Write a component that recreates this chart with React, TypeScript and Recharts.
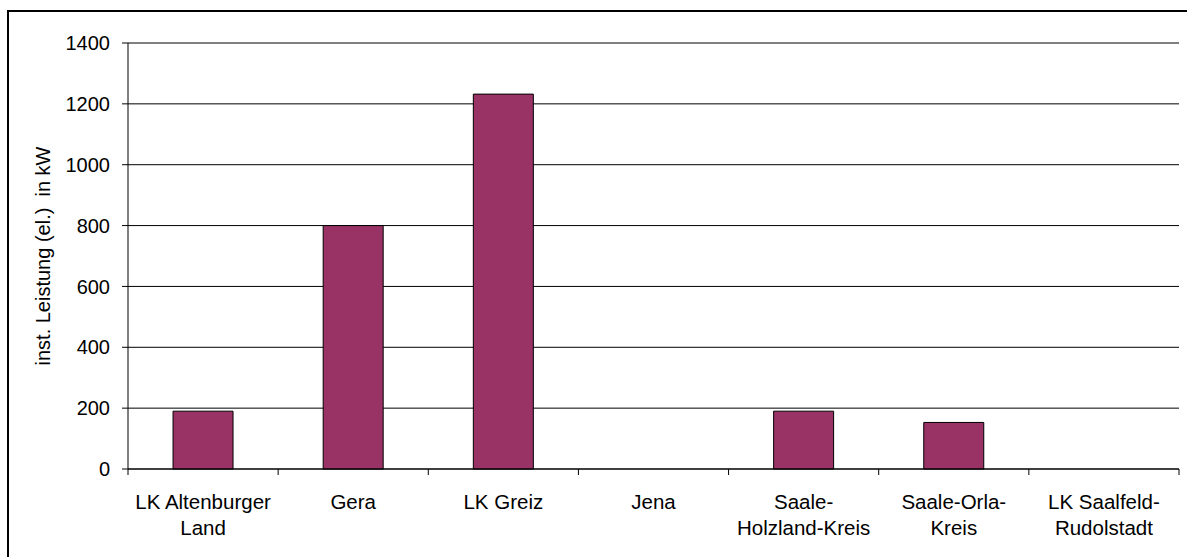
import React from 'react';
import { BarChart, Bar, XAxis, YAxis, CartesianGrid, ReferenceLine } from 'recharts';

const regions = [
  'LK Altenburger Land',
  'Gera',
  'LK Greiz',
  'Jena',
  'Saale-Holzland-Kreis',
  'Saale-Orla-Kreis',
  'LK Saalfeld-Rudolstadt',
];
const tickLines = [
  ['LK Altenburger', 'Land'],
  ['Gera'],
  ['LK Greiz'],
  ['Jena'],
  ['Saale-', 'Holzland-Kreis'],
  ['Saale-Orla-', 'Kreis'],
  ['LK Saalfeld-', 'Rudolstadt'],
];
const leistung = [190, 800, 1232, 0, 190, 153, 0];
const yTicks = [0, 200, 400, 600, 800, 1000, 1200, 1400];

const data = regions.map((name, i) => ({ name, value: leistung[i] }));

const W = 1187;
const H = 557;
const M = { top: 43, right: 8, bottom: 0, left: 0 };
const Y_W = 128;
const X_H = 88;
const band = (W - M.left - M.right - Y_W) / regions.length;
const FONT = '"Liberation Sans", Arial, sans-serif';

const XTick = (props: any) => {
  const { x, y, payload, index } = props;
  const lines = tickLines[index] || [payload.value];
  return (
    <g>
      <line x1={x - band / 2} y1={y} x2={x - band / 2} y2={y + 6} stroke="#000" />
      {index === regions.length - 1 && (
        <line x1={x + band / 2} y1={y} x2={x + band / 2} y2={y + 6} stroke="#000" />
      )}
      {lines.map((l: string, k: number) => (
        <text key={k} x={x} y={y + 40 + k * 26} textAnchor="middle" fill="#000" fontSize={20.5} fontFamily={FONT}>
          {l}
        </text>
      ))}
    </g>
  );
};

const YLabel = (props: any) => {
  const { viewBox } = props;
  const cy = viewBox.y + viewBox.height / 2;
  const cx = 43;
  return (
    <text
      x={cx}
      y={cy}
      transform={`rotate(-90 ${cx} ${cy})`}
      textAnchor="middle"
      dominantBaseline="central"
      fontSize={20}
      fontFamily={FONT}
      fill="#000"
      style={{ whiteSpace: 'pre' }}
    >
      {'inst. Leistung (el.)  in kW'}
    </text>
  );
};

export default function App() {
  return (
    <div style={{ position: 'fixed', left: 0, top: 0, width: W, height: H, overflow: 'hidden', background: '#fff' }}>
      <div
        style={{
          position: 'absolute',
          left: 7,
          top: 10,
          width: W + 20,
          height: H + 20,
          border: '2px solid #000',
        }}
      />
      <div style={{ position: 'absolute', left: 0, top: 0 }}>
        <BarChart width={W} height={H} data={data} margin={M} barCategoryGap="30%">
          <CartesianGrid horizontal vertical={false} stroke="#000" strokeWidth={1} />
          <XAxis
            dataKey="name"
            height={X_H}
            interval={0}
            tickSize={0}
            tickMargin={0}
            tickLine={false}
            axisLine={{ stroke: '#000' }}
            tick={<XTick />}
          />
          <YAxis
            width={Y_W}
            domain={[0, 1400]}
            ticks={yTicks}
            interval={0}
            tickSize={6}
            tickMargin={12}
            axisLine={{ stroke: '#000' }}
            tickLine={{ stroke: '#000' }}
            tick={{ fill: '#000', fontSize: 20, fontFamily: FONT }}
            label={<YLabel />}
          />
          <YAxis
            yAxisId="r"
            orientation="right"
            width={0}
            domain={[0, 1400]}
            tick={false}
            tickLine={false}
            axisLine={{ stroke: '#808080' }}
          />
          <ReferenceLine y={1400} stroke="#808080" />
          <Bar dataKey="value" fill="#993366" stroke="#000" strokeWidth={1} isAnimationActive={false} />
        </BarChart>
      </div>
    </div>
  );
}
